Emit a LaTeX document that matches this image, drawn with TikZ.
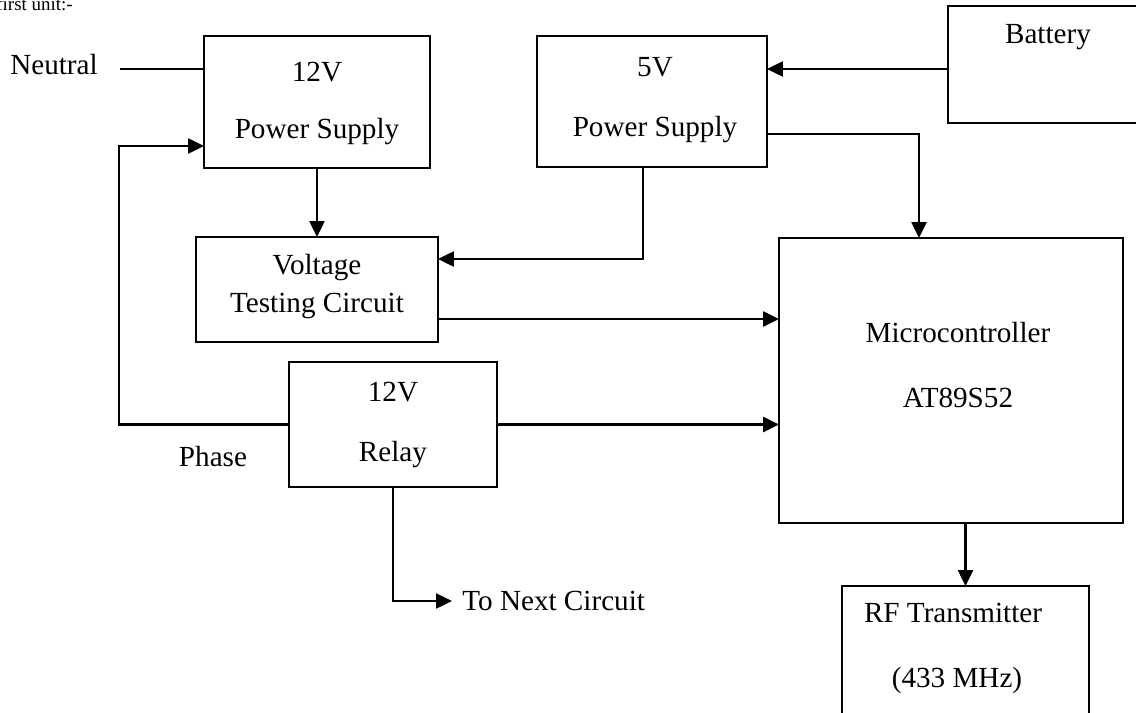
\documentclass[tikz,border=0pt]{standalone}
\usepackage{fontspec}
\setmainfont{Liberation Serif}
\usetikzlibrary{arrows.meta}
\tikzset{
  blk/.style={draw,line width=1.3pt,inner sep=0pt,outer sep=0pt},
  txt/.style={font=\fontsize{16.6}{20}\selectfont,inner sep=0pt},
  wire/.style={line width=1.4pt},
  arr/.style={wire,-{Triangle[length=0.32cm,width=0.3cm]}}
}

\begin{document}
\begin{tikzpicture}[x=0.02cm,y=-0.02cm]
  % one unit = one pixel of the 1136x713 sheet, y runs downwards
  \useasboundingbox (0,0) rectangle (1136,713);
  \node[blk,minimum width=4.52cm,minimum height=2.64cm] (ps12) at (317,102) {};
  \node[blk,minimum width=4.6cm,minimum height=2.62cm] (ps5) at (652,101.5) {};
  \node[blk,minimum width=4.0cm,minimum height=2.34cm] (batt) at (1048,64.5) {};
  \node[blk,minimum width=4.84cm,minimum height=2.1cm] (vtc) at (317,289.5) {};
  \node[blk,minimum width=4.16cm,minimum height=2.5cm] (relay) at (393,424.5) {};
  \node[blk,minimum width=6.88cm,minimum height=5.7cm] (mcu) at (951,380.5) {};
  \node[blk,minimum width=4.94cm,minimum height=3.0cm] (rf) at (965.5,661) {};
  \foreach \n/\p/\t in {neutral/{54,65}/Neutral, ps12v/{317,72}/12V, ps12t/{317,132}/Power Supply,
      ps5v/{655,67}/5V, ps5t/{655,130}/Power Supply, battt/{1048,37}/Battery,
      vtca/{317,268}/Voltage, vtcb/{317,306}/Testing Circuit, relv/{393,392}/12V, relt/{393,455}/Relay,
      phase/{213,457}/Phase, mcua/{958,333}/Microcontroller, mcub/{958,398}/AT89S52,
      rfa/{953,613}/RF Transmitter, rfb/{957,680}/(433 MHz)}
    \node[txt] (\n) at (\p) {\t};
  \node[txt,anchor=west] (next) at (462,601) {To Next Circuit};
  \node[font=\fontsize{10.8}{13}\selectfont,inner sep=0pt,anchor=base west] (head) at (-4,10.5) {first unit:-};
  % mains side
  \coordinate (nin) at (120,69);
  \coordinate (loop) at (119,146);
  \draw[wire] (nin) -- (nin -| ps12.west);
  \draw[arr] (relay.west) -| (loop) -- (loop -| ps12.west);
  \draw[arr] (ps12.south) -- (vtc.north);
  \draw[arr] (relay.south) |- ([xshift=-0.2cm]next.west);
  % 5V side
  \draw[arr] (batt.west |- 0,69) -- (ps5.east |- 0,69);
  \draw[arr] (ps5.east |- 0,134) -| (919,0 |- mcu.north);
  \draw[arr] (643,0 |- ps5.south) |- (vtc.east |- 0,259);
  % into and out of the controller
  \draw[arr] (vtc.east |- 0,319) -- (mcu.west |- 0,319);
  \draw[arr] (relay.east) -- (relay.east -| mcu.west);
  \draw[arr] (rf.north |- mcu.south) -- (rf.north);
\end{tikzpicture}
\end{document}
